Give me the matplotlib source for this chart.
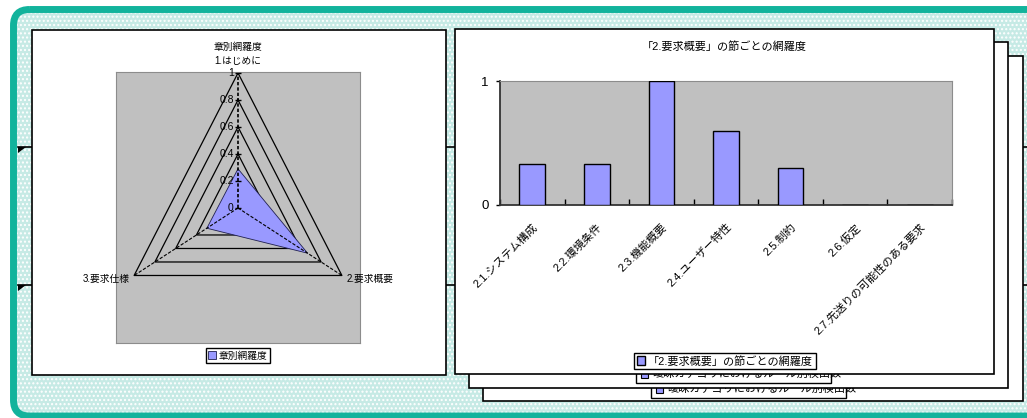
import matplotlib
matplotlib.use("Agg")
import matplotlib.pyplot as plt
from matplotlib.patches import Rectangle, FancyBboxPatch, Polygon
import numpy as np

plt.rcParams['font.family'] = ['Liberation Sans', 'Noto Sans CJK JP']
plt.rcParams['hatch.linewidth'] = 1.0

# radar chart data
radar_title = "章別網羅度"
radar_labels = ["1.はじめに", "2.要求概要", "3.要求仕様"]
radar_values = [0.29, 0.67, 0.30]
radar_ticks = [0, 0.2, 0.4, 0.6, 0.8, 1]

# bar chart data
bar_title = "「2.要求概要」の節ごとの網羅度"
bar_labels = ["2.1.システム構成", "2.2.環境条件", "2.3.機能概要", "2.4.ユーザー特性",
              "2.5.制約", "2.6.仮定", "2.7.先送りの可能性のある要求"]
bar_values = [0.33, 0.33, 1.0, 0.6, 0.3, 0, 0]
back_legend = "曖昧カテゴリにおけるルール別検出数"

W, H = 1027, 418
fig = plt.figure(figsize=(W / 100, H / 100), dpi=100)


def px_axes(x0, y0, x1, y1, **kw):
    # axes placed by pixel box (top-left origin)
    return fig.add_axes([x0 / W, 1 - y1 / H, (x1 - x0) / W, (y1 - y0) / H], **kw)


# background slide with teal frame
bg = px_axes(0, 0, W, H)
bg.set_xlim(0, W)
bg.set_ylim(H, 0)
bg.axis('off')

bg.add_patch(FancyBboxPatch((14, 10), 1040, 406, boxstyle="round,pad=0,rounding_size=16",
                            fc='#c6eae5', ec='white', hatch='....', lw=0, zorder=1))
bg.add_patch(FancyBboxPatch((13.5, 9.5), 1040, 406.5, boxstyle="round,pad=0,rounding_size=16",
                            fc='none', ec='#12b39c', lw=5, zorder=2))

# table lines behind the charts
for yy in [147, 285]:
    bg.plot([18, W], [yy, yy], color='black', lw=1.2, zorder=2.5)
    bg.add_patch(Polygon([(18, yy), (26, yy), (18, yy + 6)], closed=True, fc='black', lw=0, zorder=2.5))

# left panel
bg.add_patch(Rectangle((32, 30), 414, 345, fc='white', ec='black', lw=1.2, zorder=3))
bg.text(238, 47, radar_title, ha='center', va='center', fontsize=7, zorder=3.1)

# stacked panels on the right (back ones first)
bg.add_patch(Rectangle((483, 56), 540, 345, fc='white', ec='black', lw=1.2, zorder=3))
bg.add_patch(Rectangle((651, 380), 195, 18, fc='white', ec='black', lw=1, zorder=3.1))
bg.add_patch(Rectangle((656, 386), 7, 7, fc='#9999ff', ec='black', lw=0.8, zorder=3.15))
bg.text(667, 389, back_legend, ha='left', va='center', fontsize=8, zorder=3.2)

bg.add_patch(Rectangle((469, 42), 539, 346, fc='white', ec='black', lw=1.2, zorder=3.3))
bg.add_patch(Rectangle((636, 365), 195, 18, fc='white', ec='black', lw=1, zorder=3.4))
bg.add_patch(Rectangle((641, 371), 7, 7, fc='#9999ff', ec='black', lw=0.8, zorder=3.45))
bg.text(652, 374, back_legend, ha='left', va='center', fontsize=8, zorder=3.5)

bg.add_patch(Rectangle((455, 29), 539, 345, fc='white', ec='black', lw=1.2, zorder=3.6))
bg.text(724, 46, bar_title, ha='center', va='center', fontsize=8, zorder=3.7)

# radar chart drawn on cartesian axes so it can be squeezed like the original
ax = px_axes(116, 72, 360, 343)
ax.set_facecolor('#c0c0c0')
for s in ax.spines.values():
    s.set_color('#8c8c8c')
ax.set_xticks([])
ax.set_yticks([])
ax.set_xlim(-1.017, 1.017)
ax.set_ylim(-1.0, 1.007)

ang = np.arange(len(radar_labels)) * 2 * np.pi / len(radar_labels)
ux, uy = np.sin(ang), np.cos(ang)
for r in radar_ticks[1:]:
    ax.plot(np.append(ux, ux[0]) * r, np.append(uy, uy[0]) * r, color='black', lw=0.9, zorder=2)

vals = np.array(radar_values)
ax.fill(ux * vals, uy * vals, fc='#9999ff', ec='#202050', lw=0.6, zorder=3, label=radar_title)

for i in range(1, len(ang)):
    ax.plot([0, ux[i]], [0, uy[i]], color='black', lw=0.8, ls=(0, (3, 1.5)), zorder=4)
ax.plot([0, 0], [0, 1], color='black', lw=1.2, ls=(0, (2, 1.2)), zorder=4)
ax.plot(np.zeros(len(radar_ticks)), radar_ticks, ls='none', marker='_', ms=4, color='black', zorder=4)
for r in radar_ticks:
    ax.text(-0.035, r, f"{r:g}", ha='right', va='center', fontsize=7.5, zorder=5)

ax.text(0, 1.09, radar_labels[0], ha='center', va='center', fontsize=7)
ax.text(ux[1] * 1.045, uy[1] * 1.045, radar_labels[1], ha='left', va='center', fontsize=7)
ax.text(ux[2] * 1.045, uy[2] * 1.045, radar_labels[2], ha='right', va='center', fontsize=7)

leg = ax.legend(loc='center', bbox_to_anchor=(238 / W, 1 - 355.5 / H), bbox_transform=fig.transFigure,
                fancybox=False, edgecolor='black', framealpha=1, fontsize=7, handlelength=0.8,
                handleheight=0.8, handletextpad=0.3, borderpad=0.25, borderaxespad=0)
leg.get_frame().set_linewidth(1)

# bar chart
bx = px_axes(500, 81, 952, 205)
bx.set_facecolor('#c0c0c0')
xpos = np.arange(len(bar_values))
bx.bar(xpos, bar_values, width=0.4, color='#9999ff', edgecolor='black', lw=1, label=bar_title, zorder=3)
bx.set_xlim(-0.5, len(bar_values) - 0.5)
bx.set_ylim(0, 1)
bx.set_yticks([0, 1])
bx.set_yticklabels(['0', '1'], fontsize=9.5)
bx.tick_params(axis='y', direction='out', length=3, width=1, pad=5)
bx.set_xticks(xpos)
bx.set_xticklabels(bar_labels, rotation=45, ha='right', va='top', rotation_mode='anchor', fontsize=8)
bx.tick_params(axis='x', which='major', length=0, pad=12)
bx.set_xticks(np.arange(len(bar_values) + 1) - 0.5, minor=True)
bx.tick_params(axis='x', which='minor', direction='in', length=4, width=1)
for side in ['top', 'right']:
    bx.spines[side].set_color('#8c8c8c')
for side in ['left', 'bottom']:
    bx.spines[side].set_color('#333333')
    bx.spines[side].set_linewidth(1.3)

leg2 = bx.legend(loc='center', bbox_to_anchor=(725 / W, 1 - 361 / H), bbox_transform=fig.transFigure,
                 fancybox=False, edgecolor='black', framealpha=1, fontsize=8, handlelength=0.7,
                 handleheight=0.8, handletextpad=0.3, borderpad=0.25, borderaxespad=0)
leg2.get_frame().set_linewidth(1)

fig.savefig("out.png", dpi=100)
